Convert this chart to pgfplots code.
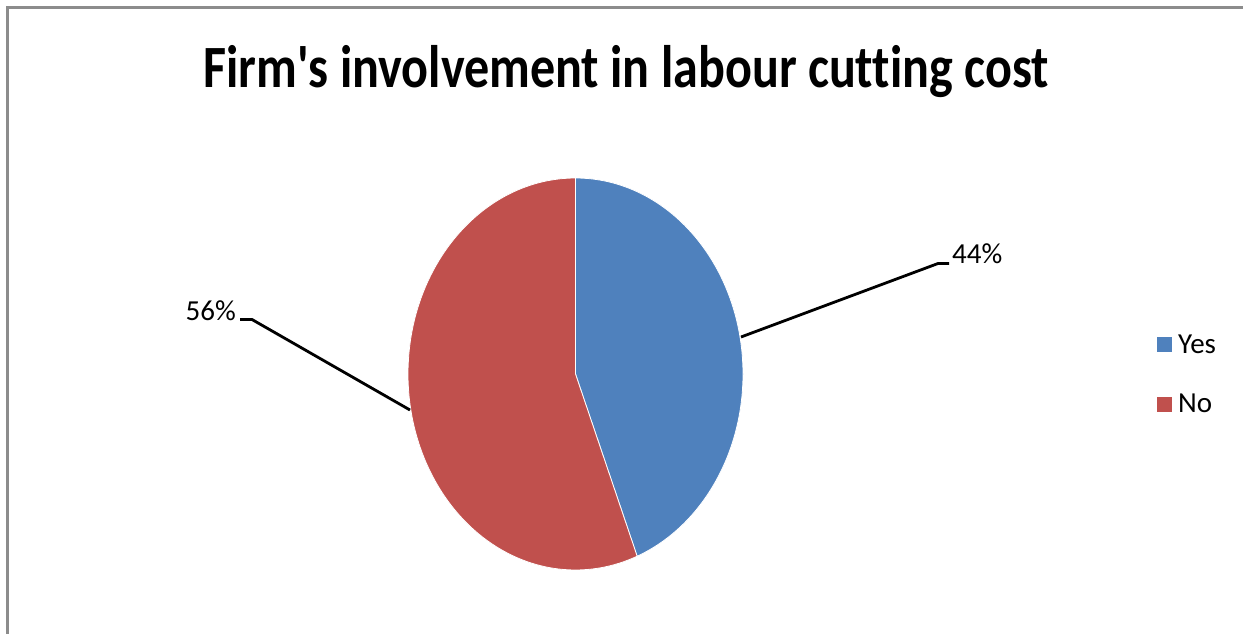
\documentclass[border=0pt]{standalone}
\usepackage{fontspec}
\setmainfont{Carlito}[Ligatures={NoCommon}]
\newfontfamily\titlefont{Carlito}[Ligatures={NoCommon}]
\usepackage{pgfplots}
\usepackage{pgfplotstable}
\pgfplotsset{compat=1.18}
\definecolor{yesblue}{HTML}{4F81BD}
\definecolor{nored}{HTML}{C0504D}
\definecolor{framegray}{HTML}{8C8C8C}
\pgfplotstableread{
label value
Yes 44
No 56
}\piedata
\begin{document}
\begin{tikzpicture}
\pgfplotstablegetelem{0}{value}\of\piedata \edef\yesval{\pgfplotsretval}
\pgfplotstablegetelem{1}{value}\of\piedata \edef\noval{\pgfplotsretval}
\pgfmathsetmacro\yesend{90-3.6*\yesval}
\pgfmathsetmacro\noend{90+3.6*\noval}
\begin{axis}[x=1pt, y=1pt, xmin=0, xmax=1243, ymin=0, ymax=634, y dir=reverse,
  hide axis, clip=false]
% frame
\draw[framegray, line width=2.5pt] (axis cs:7.5,640) -- (axis cs:7.5,7.5) -- (axis cs:1250,7.5);
% title
\node[anchor=base, inner sep=0pt, font=\titlefont\fontsize{60}{72}\selectfont\bfseries] at (axis cs:626,88) {\scalebox{0.835}[1]{Firm's involvement in labour cutting cost}};
% pie
\fill[yesblue, draw=white, line width=0.8pt] (axis cs:575.5,374) -- (axis cs:575.5,178)
  arc[start angle=90, end angle=\yesend, x radius=167.5pt, y radius=196pt] -- cycle;
\fill[nored, draw=white, line width=0.8pt] (axis cs:575.5,374) -- (axis cs:575.5,178)
  arc[start angle=90, end angle=\noend, x radius=167.5pt, y radius=196pt] -- cycle;
% leader lines
\draw[black, line width=2.8pt] (axis cs:741,337) -- (axis cs:938,263.5) -- (axis cs:949,263.5);
\draw[black, line width=2.8pt] (axis cs:410,410) -- (axis cs:252,319.5) -- (axis cs:240,319.5);
% data labels
\node[anchor=base west, inner sep=0pt, font=\fontsize{29}{34}\selectfont] at (axis cs:952,263) {\yesval\%};
\node[anchor=base east, inner sep=0pt, font=\fontsize{29}{34}\selectfont] at (axis cs:236,320) {\noval\%};
% legend
\fill[yesblue] (axis cs:1157,337) rectangle (axis cs:1172,352);
\node[anchor=base west, inner sep=0pt, font=\fontsize{29}{34}\selectfont] at (axis cs:1178,353) {Yes};
\fill[nored] (axis cs:1157,397) rectangle (axis cs:1172,412);
\node[anchor=base west, inner sep=0pt, font=\fontsize{29}{34}\selectfont] at (axis cs:1178,412) {No};
\end{axis}
\pgfresetboundingbox
\useasboundingbox (0,0) rectangle (1243pt,634pt);
\end{tikzpicture}
\end{document}
